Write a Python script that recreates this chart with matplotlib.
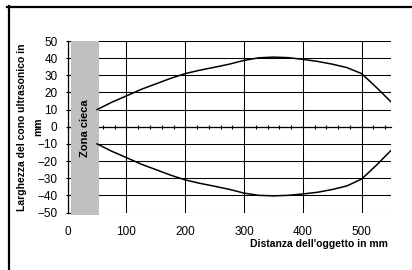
import matplotlib
matplotlib.use("Agg")
import matplotlib.pyplot as plt
from matplotlib.lines import Line2D
from matplotlib.patches import Rectangle
from matplotlib.ticker import MultipleLocator

plt.rcParams['font.family'] = ['Liberation Sans', 'DejaVu Sans']

# Data
distance = [50, 75, 100, 125, 150, 175, 200, 225, 250, 275, 300, 325, 350,
            375, 400, 425, 450, 475, 500, 525, 550]
upper = [10, 14.3, 18, 21.8, 25, 28.2, 31, 33, 34.7, 36.5, 38.7, 40.2, 40.6,
         40.3, 39.3, 38.1, 36.5, 34.5, 31, 23, 14.5]
lower = [-10, -14.3, -18, -21.8, -25, -28.2, -31, -33, -34.7, -36.5, -38.7, -40, -40.3,
         -40, -39.2, -38.2, -36.6, -34.5, -30.5, -22.5, -13.8]
blind_zone = (5.5, 53)
x_ticks = [0, 100, 200, 300, 400, 500]
y_ticks = [-50, -40, -30, -20, -10, 0, 10, 20, 30, 40, 50]
x_label = "Distanza dell'oggetto in mm"
y_label_1 = "Larghezza del cono ultrasonico in"
y_label_2 = "mm"
zone_label = "Zona cieca"

W, H = 412, 270
fig = plt.figure(figsize=(W / 100, H / 100), dpi=100)
fig.patch.set_facecolor('white')

ax_l, ax_r, ax_t, ax_b = 67.7, 391, 41, 212.5
ax = fig.add_axes([ax_l / W, 1 - ax_b / H, (ax_r - ax_l) / W, (ax_b - ax_t) / H])
ax.set_xlim(0, 550)
ax.set_ylim(-50, 50)
ax.set_axisbelow(True)

ax.set_xticks(x_ticks)
ax.xaxis.set_minor_locator(MultipleLocator(20))
ax.set_yticks(y_ticks)
ax.grid(True, which='major', color='black', lw=0.75)

for s in ['top', 'right']:
    ax.spines[s].set_visible(False)
ax.spines['left'].set_linewidth(0.9)
ax.spines['bottom'].set_position(('data', 0))
ax.spines['bottom'].set_linewidth(0.9)

ax.tick_params(axis='x', which='major', direction='inout', length=5, width=0.8,
               labelbottom=False)
ax.tick_params(axis='x', which='minor', direction='inout', length=2.6, width=0.8)
ax.tick_params(axis='y', which='major', direction='inout', length=3.6, width=0.8,
               labelsize=8.5, pad=5.5)

sec = ax.secondary_xaxis('bottom')
sec.set_xticks(x_ticks)
sec.tick_params(length=0, labelsize=8.5, pad=9.5)
sec.spines['bottom'].set_visible(False)

# blind zone
band = Rectangle((blind_zone[0], -51.7), blind_zone[1] - blind_zone[0], 101.7,
                 facecolor='#c0c0c0', edgecolor='none', zorder=3, clip_on=False)
ax.add_patch(band)
ax.text((blind_zone[0] + blind_zone[1]) / 2, -1, zone_label, rotation=90,
        ha='center', va='center', fontsize=8, fontweight='bold', zorder=5)

ax.plot(distance, upper, color='black', lw=1.1, zorder=4)
ax.plot(distance, lower, color='black', lw=1.1, zorder=4)

fig.text(388 / W, 1 - 244 / H, x_label, ha='right', va='center',
         fontsize=7.5, fontweight='bold')
fig.text(22 / W, 1 - 127 / H, y_label_1, ha='center', va='center', rotation=90,
         fontsize=7.5, fontweight='bold')
fig.text(38.5 / W, 1 - 127 / H, y_label_2, ha='center', va='center', rotation=90,
         fontsize=7.5, fontweight='bold')

# outer frame (top and left visible)
fig.add_artist(Line2D([8.5 / W, 8.5 / W], [1 - 5.5 / H, 0], transform=fig.transFigure,
                      color='black', lw=1.6))
fig.add_artist(Line2D([7.5 / W, 1], [1 - 6.5 / H, 1 - 6.5 / H], transform=fig.transFigure,
                      color='black', lw=1.6))

fig.savefig('out.png', dpi=100)
